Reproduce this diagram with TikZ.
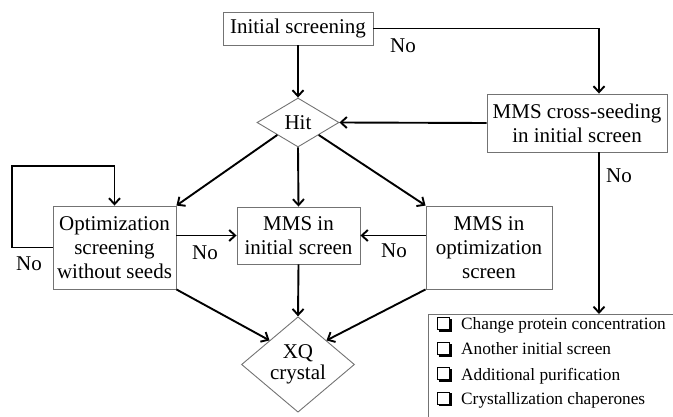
\documentclass[tikz,border=0pt]{standalone}
\usepackage{fontspec}
\setmainfont{Liberation Serif}
\usetikzlibrary{shapes.geometric,arrows.meta,calc}
\tikzset{
  box/.style={draw=black!55, line width=0.9pt, rectangle, inner sep=0pt, align=center,
    font=\fontsize{21}{24}\selectfont},
  dia/.style={draw=black!55, line width=0.9pt, diamond, inner sep=0pt, align=center,
    font=\fontsize{21}{21}\selectfont},
  conn/.style={line width=1.9pt, -{Straight Barb[length=6pt,width=11pt]}},
  lbl/.style={anchor=base, inner sep=0pt, font=\fontsize{21}{24}\selectfont},
  item/.style={anchor=base west, inner sep=0pt, font=\fontsize{17.3}{20}\selectfont},
  chkbox/.style={line width=0.9pt},
  chkshadow/.style={line width=2.2pt},
}
\begin{document}
\begin{tikzpicture}[x=1pt,y=-1pt]
\useasboundingbox (0,0) rectangle (673,417);
\node[box, minimum width=150, minimum height=33] (init) at (298,28.5) {Initial screening};
\node[dia, minimum width=82, minimum height=49] (hit) at (298,122.5) {Hit};
\node[box, minimum width=180, minimum height=58] (cross) at (577,123) {MMS cross-seeding\\in initial screen};
\node[box, minimum width=123, minimum height=83] (opt) at (114.5,247.5) {Optimization\\screening\\without seeds};
\node[box, minimum width=123, minimum height=57] (mmsi) at (298.5,235.5) {MMS in\\initial screen};
\node[box, minimum width=126, minimum height=83] (mmso) at (489,247.5) {MMS in\\optimization\\screen};
\node[dia, minimum width=113, minimum height=81] (xq) at (298,364.5) {XQ\\crystal};
\begin{scope}
\clip (0,0) rectangle (673,417);
\node[box, anchor=north west, minimum width=250, minimum height=110] (list) at (428,314) {};
\end{scope}
\node[item] (l1) at (461,330) {Change protein concentration};
\node[item] (l2) at (461,355) {Another initial screen};
\node[item] (l3) at (461,380) {Additional purification};
\node[item] (l4) at (461,404.5) {Crystallization chaperones};
\foreach \i in {l1,l2,l3,l4}{
  \draw[chkbox] ($(\i.base west)+(-23.5,-0.5)$) rectangle ($(\i.base west)+(-11.5,-12.5)$);
  \draw[chkshadow] ($(\i.base west)+(-22.5,0.6)$) -- ($(\i.base west)+(-10.4,0.6)$) -- ($(\i.base west)+(-10.4,-11.5)$);
}
\coordinate (rx) at (599,0);
\coordinate (lp) at (12,166);
% connectors
\draw[conn] (init.south) -- (hit.north);
\draw[conn] (init.east) -| (rx |- cross.north);
\draw[conn] (cross.west) -- (hit.east);
\draw[conn] (rx |- cross.south) -- (rx |- list.north);
\draw[conn] (hit.south west) -- (opt.north east);
\draw[conn] (hit.south) -- (mmsi.north);
\draw[conn] (hit.south east) -- (mmso.north west);
\draw[conn] (opt.east |- mmsi.west) -- (mmsi.west);
\draw[conn] (mmso.west |- mmsi.east) -- (mmsi.east);
\draw[conn] (opt.south east) -- (xq.north west);
\draw[conn] (mmsi.south) -- (xq.north);
\draw[conn] (mmso.south west) -- (xq.north east);
\draw[conn] (opt.west) -| (lp) -| (opt.north);
% labels
\node[lbl] (n1) at (403,53) {No};
\node[lbl] (n2) at (619,183) {No};
\node[lbl] (n3) at (205,260) {No};
\node[lbl] (n4) at (394,258) {No};
\node[lbl] (n5) at (29,271) {No};
\end{tikzpicture}
\end{document}
